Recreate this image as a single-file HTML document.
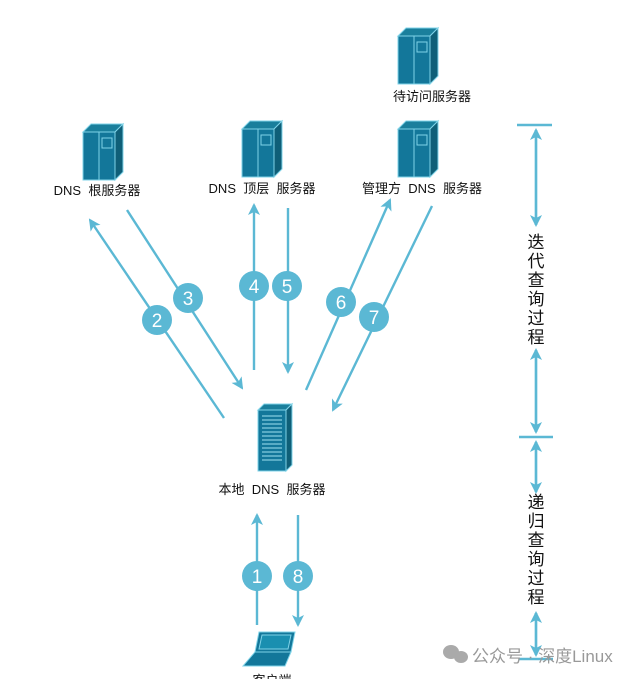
<!DOCTYPE html>
<html><head><meta charset="utf-8"><style>
html,body{margin:0;padding:0;background:#fff;}
svg{display:block;}
text{font-family:"Liberation Sans","Noto Sans CJK SC",sans-serif;}
</style></head><body>
<svg width="637" height="679" viewBox="0 0 637 679" xmlns="http://www.w3.org/2000/svg">
<defs>
<marker id="ah" markerWidth="12" markerHeight="12" refX="10" refY="6" orient="auto" markerUnits="userSpaceOnUse">
<path d="M0,0 L12,6 L0,12 L3,6 Z" fill="#5bb8d4"/>
</marker>
<g id="srv">
<polygon points="0,8 8,0 40,0 32,8" fill="#1a7f9c" stroke="#7fd3e8" stroke-width="1"/>
<polygon points="32,8 40,0 40,48 32,56" fill="#0f5f78" stroke="#7fd3e8" stroke-width="1"/>
<rect x="0" y="8" width="16" height="48" fill="#13779a" stroke="#7fd3e8" stroke-width="1"/>
<rect x="16" y="8" width="16" height="48" fill="#13779a" stroke="#7fd3e8" stroke-width="1"/>
<rect x="19" y="14" width="10" height="10" fill="none" stroke="#7fd3e8" stroke-width="1"/>
</g>
</defs>
<g stroke="#5bb8d4" stroke-width="2.4" fill="none" marker-end="url(#ah)">
<line x1="224" y1="418" x2="90" y2="220"/>
<line x1="127" y1="210" x2="242" y2="388"/>
<line x1="254" y1="370" x2="254" y2="205"/>
<line x1="288" y1="208" x2="288" y2="372"/>
<line x1="306" y1="390" x2="390" y2="200"/>
<line x1="432" y1="206" x2="333" y2="410"/>
<line x1="257" y1="625" x2="257" y2="515"/>
<line x1="298" y1="515" x2="298" y2="625"/>
<line x1="536" y1="225" x2="536" y2="130"/>
<line x1="536" y1="130" x2="536" y2="225"/>
<line x1="536" y1="350" x2="536" y2="432"/>
<line x1="536" y1="432" x2="536" y2="350"/>
<line x1="536" y1="492" x2="536" y2="442"/>
<line x1="536" y1="442" x2="536" y2="492"/>
<line x1="536" y1="655" x2="536" y2="613"/>
<line x1="536" y1="613" x2="536" y2="655"/>
</g>
<g stroke="#5bb8d4" stroke-width="2.5">
<line x1="517" y1="125" x2="552" y2="125"/>
<line x1="519" y1="437" x2="553" y2="437"/>
<line x1="519" y1="659" x2="553" y2="659"/>
</g>
<g fill="#5bb8d4">
<circle cx="157" cy="320" r="15"/><circle cx="188" cy="298" r="15"/>
<circle cx="254" cy="286" r="15"/><circle cx="287" cy="286" r="15"/>
<circle cx="341" cy="302" r="15"/><circle cx="374" cy="317" r="15"/>
<circle cx="257" cy="576" r="15"/><circle cx="298" cy="576" r="15"/>
</g>
<g fill="#fff" font-size="19" text-anchor="middle">
<text x="157" y="327">2</text><text x="188" y="305">3</text>
<text x="254" y="293">4</text><text x="287" y="293">5</text>
<text x="341" y="309">6</text><text x="374" y="324">7</text>
<text x="257" y="583">1</text><text x="298" y="583">8</text>
</g>
<use href="#srv" x="398" y="28"/>
<use href="#srv" x="83" y="124"/>
<use href="#srv" x="242" y="121"/>
<use href="#srv" x="398" y="121"/>
<polygon points="258,410 264,404 292,404 286,410" fill="#1a7f9c" stroke="#7fd3e8"/>
<polygon points="286,410 292,404 292,465 286,471" fill="#0f5f78" stroke="#7fd3e8"/>
<rect x="258" y="410" width="28" height="61" fill="#13779a" stroke="#7fd3e8"/>
<g stroke="#9fe0f0" stroke-width="1">
<line x1="262" y1="416" x2="282" y2="416"/><line x1="262" y1="420" x2="282" y2="420"/>
<line x1="262" y1="424" x2="282" y2="424"/><line x1="262" y1="428" x2="282" y2="428"/>
<line x1="262" y1="432" x2="282" y2="432"/><line x1="262" y1="436" x2="282" y2="436"/>
<line x1="262" y1="440" x2="282" y2="440"/><line x1="262" y1="444" x2="282" y2="444"/>
<line x1="262" y1="448" x2="282" y2="448"/><line x1="262" y1="452" x2="282" y2="452"/>
<line x1="262" y1="456" x2="282" y2="456"/><line x1="262" y1="460" x2="282" y2="460"/>
</g>
<polygon points="259,632 295,632 291,652 255,652" fill="#13779a" stroke="#7fd3e8"/>
<polygon points="262,635 291,635 288,649 259,649" fill="#1a8fb0" stroke="#7fd3e8"/>
<polygon points="255,652 291,652 285,666 243,666" fill="#13779a" stroke="#7fd3e8"/>
<g font-size="13" fill="#111" text-anchor="middle">
<text x="432" y="101">待访问服务器</text>
<text x="97" y="195" xml:space="preserve">DNS  根服务器</text>
<text x="262" y="193" xml:space="preserve">DNS  顶层  服务器</text>
<text x="422" y="193" xml:space="preserve">管理方  DNS  服务器</text>
<text x="272" y="494" xml:space="preserve">本地  DNS  服务器</text>
<text x="272" y="685">客户端</text>
</g>
<g font-size="17" fill="#111" text-anchor="middle">
<text x="536" y="248">迭</text><text x="536" y="267">代</text><text x="536" y="286">查</text>
<text x="536" y="305">询</text><text x="536" y="324">过</text><text x="536" y="343">程</text>
<text x="536" y="508">递</text><text x="536" y="527">归</text><text x="536" y="546">查</text>
<text x="536" y="565">询</text><text x="536" y="584">过</text><text x="536" y="603">程</text>
</g>
<g fill="#aaa">
<ellipse cx="451" cy="652" rx="8" ry="7"/><ellipse cx="461" cy="657" rx="7" ry="6"/>
</g>
<text x="472" y="662" font-size="17" fill="#999">公众号 · 深度Linux</text>
</svg>
</body></html>
